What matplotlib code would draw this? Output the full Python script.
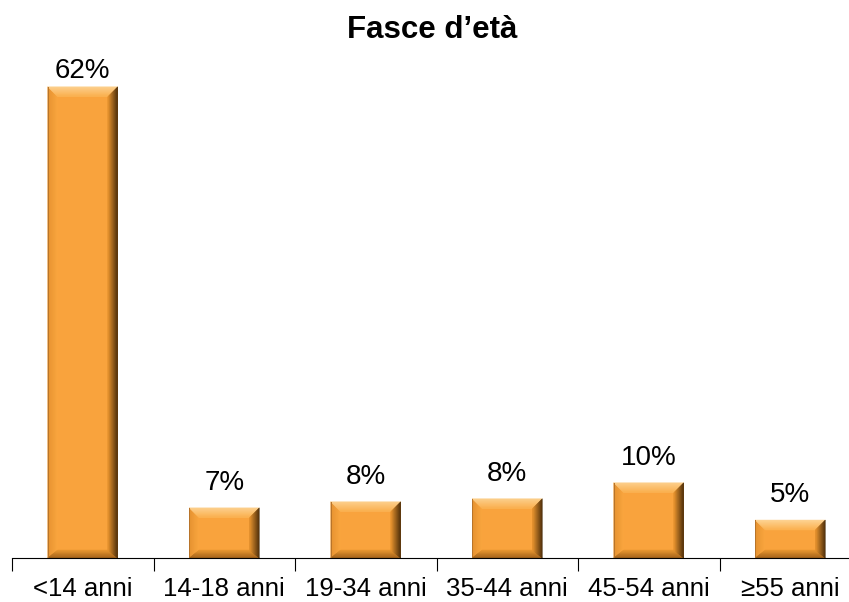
import matplotlib
matplotlib.use("Agg")
import matplotlib.pyplot as plt
from matplotlib.patches import Polygon
from matplotlib.colors import to_rgb
import numpy as np

plt.rcParams['font.family'] = ['Liberation Sans', 'DejaVu Sans']

categories = ["<14 anni", "14-18 anni", "19-34 anni", "35-44 anni", "45-54 anni", "\u226555 anni"]
values = [62.0, 6.6, 7.4, 7.8, 9.9, 5.0]
labels = ["62%", "7%", "8%", "8%", "10%", "5%"]
title = "Fasce d\u2019et\u00e0"

W, H = 849, 602
fig = plt.figure(figsize=(W / 100, H / 100), dpi=100)
base_px = 558
top_px = 60
ax = fig.add_axes([12 / W, (H - base_px) / H, 849 / W, (base_px - top_px) / H])

x = np.arange(len(categories))
bw = 0.495
ymax = (base_px - top_px) / 7.6
ax.set_xlim(-0.5, len(categories) - 0.5)
ax.set_ylim(0, ymax)

main_col = "#F9A33D"
bars = ax.bar(x, values, width=bw, color=main_col, edgecolor="none", zorder=2)

fig.canvas.draw()
to_disp = ax.transData
to_data = ax.transData.inverted()
bev = 10  # pixels
N = 10


def lerp(c0, c1, t):
    a, b = np.array(to_rgb(c0)), np.array(to_rgb(c1))
    return tuple(a + (b - a) * t)


def grad_side(o0, o1, i0, i1, c_outer, c_inner):
    o0, o1, i0, i1 = map(np.array, (o0, o1, i0, i1))
    for k in range(N):
        t0, t1 = k / N, (k + 1) / N
        p = [o0 + (i0 - o0) * t0, o1 + (i1 - o1) * t0, o1 + (i1 - o1) * t1, o0 + (i0 - o0) * t1]
        c = lerp(c_outer, c_inner, (t0 + t1) / 2)
        ax.add_patch(Polygon(to_data.transform(p), closed=True, facecolor=c,
                             edgecolor=c, linewidth=0.3, zorder=3))


for rect in bars:
    x0, y0 = rect.get_x(), 0
    x1, y1 = x0 + rect.get_width(), rect.get_height()
    (px0, py0) = to_disp.transform((x0, y0))
    (px1, py1) = to_disp.transform((x1, y1))
    b = min(bev, (py1 - py0) / 2.5)
    O = [(px0, py0), (px1, py0), (px1, py1), (px0, py1)]
    I = [(px0 + b, py0 + b * 0.8), (px1 - b, py0 + b * 0.8), (px1 - b, py1 - b), (px0 + b, py1 - b)]
    # left
    grad_side(O[3], O[0], I[3], I[0], "#E4912F", "#FAA63F")
    # bottom
    grad_side(O[0], O[1], I[0], I[1], "#9A5C18", "#E8962F")
    # top
    grad_side(O[2], O[3], I[2], I[3], "#FDD495", "#FBB04E")
    # right
    grad_side(O[1], O[2], I[1], I[2], "#3E2406", "#E8942E")
    # thin outline on left edge
    edge = [(px0, py0), (px0 + 1, py0), (px0 + 1, py1), (px0, py1)]
    ax.add_patch(Polygon(to_data.transform(edge), closed=True, facecolor="#B8742A",
                         edgecolor="none", zorder=4))

label_top_limit = H - 58  # display y (from bottom) of the highest label top
for xi, v, lab in zip(x, values, labels):
    px, py = to_disp.transform((xi, v))
    ty = min(py + 18, label_top_limit - 20)
    tx, tyd = to_data.transform((px, ty))
    ax.text(xi, tyd, lab, ha="center", va="baseline", fontsize=20, color="#000000")

for s in ["top", "right", "left"]:
    ax.spines[s].set_visible(False)
ax.spines["bottom"].set_color("#000000")
ax.spines["bottom"].set_linewidth(0.8)
ax.spines["bottom"].set_zorder(5)
ax.set_yticks([])
ax.set_xticks(x)
ax.set_xticklabels(categories, fontsize=18.5)
ax.tick_params(axis="x", which="major", length=0, pad=14)
ax.set_xticks(np.arange(-0.5, len(categories) + 0.5, 1.0), minor=True)
ax.tick_params(axis="x", which="minor", length=9, width=0.8, color="#000000")

fig.text(432 / W, 1 - 30 / H, title, ha="center", va="center", fontsize=22.5, fontweight="bold")

fig.savefig("out.png", dpi=100)
